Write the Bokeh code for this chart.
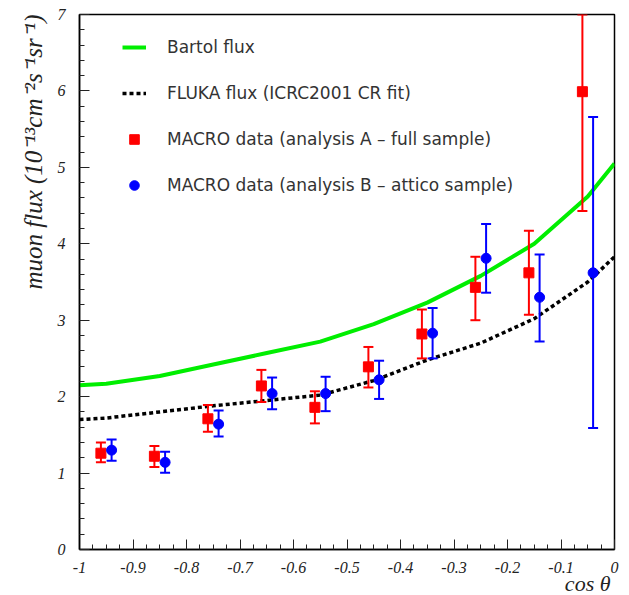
import math
from bokeh.plotting import figure
from bokeh.models import (FixedTicker, Legend, LegendItem, Title, Range1d)
from bokeh.embed import file_html
from bokeh.resources import INLINE

# ---- data ----
model_x = [-1.0, -0.95, -0.85, -0.75, -0.65, -0.55, -0.45, -0.35, -0.25, -0.15, -0.05, 0.0]
bartol_flux = [2.15, 2.17, 2.27, 2.42, 2.57, 2.72, 2.95, 3.23, 3.58, 4.00, 4.62, 5.05]
fluka_flux = [1.70, 1.72, 1.80, 1.88, 1.95, 2.02, 2.21, 2.48, 2.70, 3.02, 3.50, 3.83]

a_cos = [-0.96, -0.86, -0.76, -0.66, -0.56, -0.46, -0.36, -0.26, -0.16, -0.06]
a_flux = [1.26, 1.22, 1.71, 2.14, 1.86, 2.39, 2.82, 3.43, 3.62, 5.99]
a_upper = [1.40, 1.355, 1.89, 2.35, 2.07, 2.65, 3.14, 3.83, 4.17, 7.0]
a_lower = [1.14, 1.08, 1.54, 1.93, 1.65, 2.12, 2.50, 3.00, 3.07, 4.43]

b_cos = [-0.94, -0.84, -0.74, -0.64, -0.54, -0.44, -0.34, -0.24, -0.14, -0.04]
b_flux = [1.30, 1.14, 1.64, 2.04, 2.04, 2.22, 2.83, 3.81, 3.30, 3.62]
b_upper = [1.44, 1.28, 1.82, 2.25, 2.26, 2.47, 3.16, 4.26, 3.86, 5.66]
b_lower = [1.16, 1.005, 1.48, 1.835, 1.81, 1.97, 2.50, 3.36, 2.72, 1.59]

x_ticks = [-1.0, -0.9, -0.8, -0.7, -0.6, -0.5, -0.4, -0.3, -0.2, -0.1, 0.0]
x_tick_labels = ["-1", "-0.9", "-0.8", "-0.7", "-0.6", "-0.5", "-0.4", "-0.3", "-0.2", "-0.1", "0"]
y_ticks = [0, 1, 2, 3, 4, 5, 6, 7]

legend_labels = ["Bartol flux", "FLUKA flux (ICRC2001 CR fit)",
                 "MACRO data (analysis A – full sample)",
                 "MACRO data (analysis B – attico sample)"]
y_title = "muon flux (10⁻¹³cm⁻²s⁻¹sr⁻¹)"
x_title = "cos θ"

# ---- figure ----
p = figure(width=629, height=595, output_backend="svg", toolbar_location=None,
           x_range=Range1d(-1, 0), y_range=Range1d(0, 7),
           min_border_left=79, min_border_right=15, min_border_top=14, min_border_bottom=46)
p.xgrid.visible = False
p.ygrid.visible = False
p.outline_line_color = "black"
p.outline_line_width = 1.5
p.background_fill_color = "white"
p.border_fill_color = "white"

green = "#00ee00"
red = "#ff0000"
blue = "#0000ff"

r_bartol = p.line(model_x, bartol_flux, line_color=green, line_width=4)
r_fluka = p.line(model_x, fluka_flux, line_color="black", line_width=3.5, line_dash="4 3")

# error bars
p.segment(a_cos, a_lower, a_cos, a_upper, line_color=red, line_width=2)
p.scatter(a_cos, a_upper, marker="dash", size=10, line_color=red, line_width=2)
p.scatter(a_cos, a_lower, marker="dash", size=10, line_color=red, line_width=2)
p.segment(b_cos, b_lower, b_cos, b_upper, line_color=blue, line_width=2)
p.scatter(b_cos, b_upper, marker="dash", size=10, line_color=blue, line_width=2)
p.scatter(b_cos, b_lower, marker="dash", size=10, line_color=blue, line_width=2)

r_a = p.scatter(a_cos, a_flux, marker="square", size=10, fill_color=red, line_color=red)
r_b = p.scatter(b_cos, b_flux, marker="circle", size=10, fill_color=blue, line_color=blue)

# axes
tick_font = "Liberation Serif"
p.xaxis.ticker = FixedTicker(ticks=x_ticks, minor_ticks=[-1 + i * 0.025 for i in range(41)])
p.xaxis.major_label_overrides = {t: l for t, l in zip(x_ticks, x_tick_labels)}
p.yaxis.ticker = FixedTicker(ticks=y_ticks, minor_ticks=[i * 0.2 for i in range(36)])
for ax in (p.xaxis[0], p.yaxis[0]):
    ax.axis_line_color = "black"
    ax.axis_line_width = 1.5
    ax.major_tick_in = 10
    ax.major_tick_out = 0
    ax.minor_tick_in = 5
    ax.minor_tick_out = 0
    ax.major_tick_line_color = "#222222"
    ax.minor_tick_line_color = "#222222"
    ax.major_label_text_font = tick_font
    ax.major_label_text_font_style = "italic"
    ax.major_label_text_font_size = "16px"
    ax.major_label_text_color = "#222222"
p.xaxis.major_label_standoff = 12
p.yaxis.major_label_standoff = 14

# axis titles
yt = Title(text=y_title, align="right", vertical_align="bottom", standoff=16,
           text_font="Liberation Serif", text_font_style="italic",
           text_font_size="25px", text_color="#222222")
p.add_layout(yt, "left")
xt = Title(text=x_title, align="right", vertical_align="middle", standoff=-12, offset=4,
           text_font="Liberation Serif", text_font_style="italic",
           text_font_size="22px", text_color="#222222")
p.add_layout(xt, "below")

legend = Legend(items=[LegendItem(label=legend_labels[0], renderers=[r_bartol]),
                       LegendItem(label=legend_labels[1], renderers=[r_fluka]),
                       LegendItem(label=legend_labels[2], renderers=[r_a]),
                       LegendItem(label=legend_labels[3], renderers=[r_b])],
                location=(43, 352), padding=0, margin=0, spacing=22,
                glyph_width=24, glyph_height=24, label_height=24, label_standoff=21,
                label_text_font="DejaVu Sans", label_text_font_size="17px",
                label_text_color="#333333", label_text_baseline="middle",
                border_line_alpha=0, background_fill_alpha=0)
p.add_layout(legend)

open("out.html", "w").write(file_html(p, INLINE))
